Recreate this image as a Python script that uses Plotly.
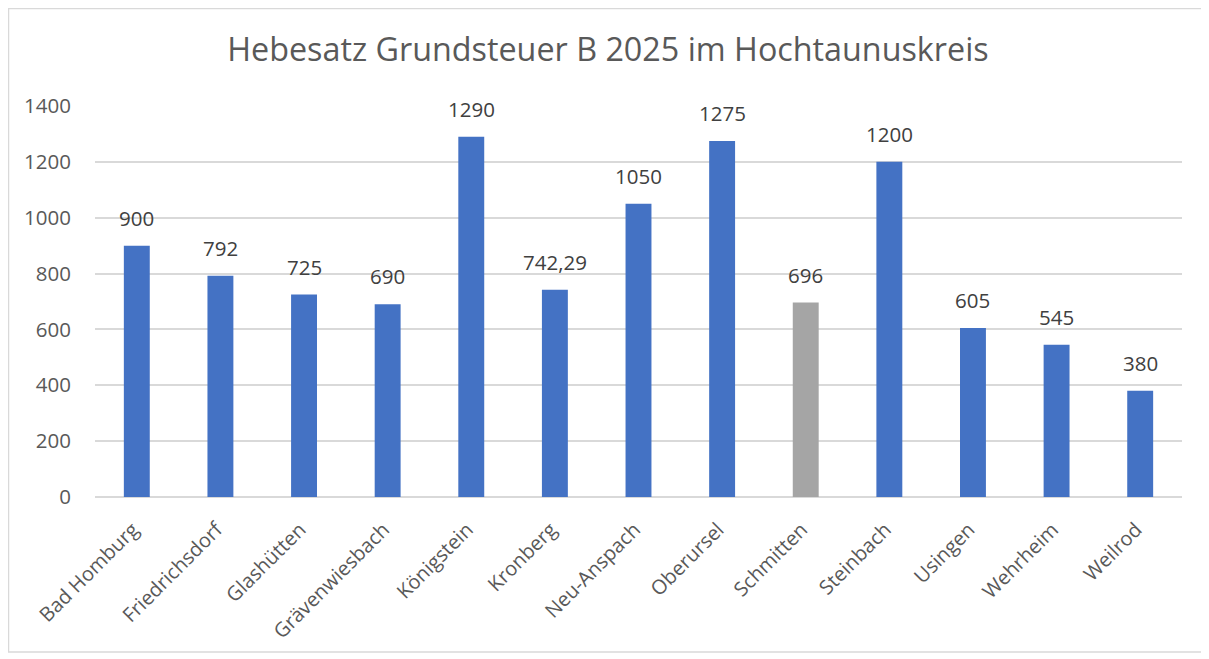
import plotly.graph_objects as go

categories = ["Bad Homburg", "Friedrichsdorf", "Glashütten", "Grävenwiesbach", "Königstein",
              "Kronberg", "Neu-Anspach", "Oberursel", "Schmitten", "Steinbach", "Usingen",
              "Wehrheim", "Weilrod"]
values = [900, 792, 725, 690, 1290, 742.29, 1050, 1275, 696, 1200, 605, 545, 380]
highlight = "Schmitten"
y_ticks = [0, 200, 400, 600, 800, 1000, 1200, 1400]

colors = ["#A5A5A5" if c == highlight else "#4472C4" for c in categories]
labels = [(f"{v:g}").replace(".", ",") for v in values]

font_family = "'Open Sans', Lato, sans-serif"
text_color = "#595959"

fig = go.Figure(go.Bar(
    x=categories, y=values, marker_color=colors, marker_line_width=0,
    width=0.31, hoverinfo="x+y",
))

for c, v, t in zip(categories, values, labels):
    fig.add_annotation(x=c, y=v, text=t, showarrow=False, yanchor="bottom",
                       xanchor="center", yshift=12,
                       font=dict(size=20.5, color="#404040", family=font_family))

# page has an 8px body margin; work in page coordinates and subtract it
OFF = 8
W, H = 1209 - OFF, 659 - OFF
L = 95 - OFF
R = W - (1182 - OFF)
T = 106 - OFF
B = H - (497 - OFF)
pw, ph = W - L - R, H - T - B

def px_x(x):
    return (x - OFF - L) / pw

def px_y(y):
    return (H - B - (y - OFF)) / ph

fig.update_layout(
    width=W, height=H,
    margin=dict(l=L, r=R, t=T, b=B, autoexpand=False),
    paper_bgcolor="white", plot_bgcolor="white",
    showlegend=False,
    title=dict(text="Hebesatz Grundsteuer B 2025 im Hochtaunuskreis",
               x=(608 - OFF) / W, xanchor="center", y=1 - (50 - OFF) / H, yanchor="middle",
               font=dict(size=32.3, color=text_color, family=font_family)),
    font=dict(family=font_family, color=text_color),
    xaxis=dict(tickangle=-45, tickfont=dict(size=20, color=text_color),
               showgrid=False, showline=False, ticks="", automargin=False,
               ticklabelstandoff=16, ticklabelshift=-4),
    yaxis=dict(range=[0, 1400], tickvals=y_ticks, tickfont=dict(size=20.5, color=text_color),
               showgrid=True, gridcolor="#D9D9D9", gridwidth=1.5,
               zeroline=True, zerolinecolor="#D9D9D9", zerolinewidth=1.5,
               showline=False, ticks="", ticklabelstandoff=23, automargin=False),
    shapes=[dict(type="rect", xref="paper", yref="paper",
                 x0=px_x(8.5), x1=px_x(1205), y0=px_y(652), y1=px_y(8.5),
                 line=dict(color="#D9D9D9", width=1.5), layer="below")],
)

fig.write_html("out.html")
